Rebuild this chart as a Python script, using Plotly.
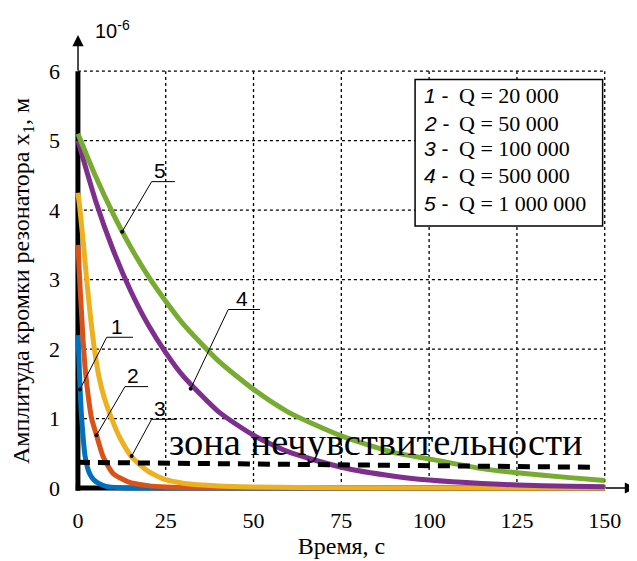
import plotly.graph_objects as go

# ---------------- data ----------------
t1 = [0, 0.3, 0.6, 1.0, 1.5, 2.0, 2.7, 3.4, 4.5, 5.8, 8, 12, 20, 40, 150]
a1 = [2.2, 1.85, 1.45, 1.05, 0.72, 0.47, 0.3, 0.2, 0.12, 0.07, 0.025, 0.006, 0, 0, 0]

t2 = [0, 0.3, 0.6, 1.0, 1.5, 2.2, 3.0, 3.9, 5.3, 7.2, 10, 14.3, 20, 25, 35, 150]
a2 = [3.5, 3.2, 2.9, 2.55, 2.1, 1.65, 1.3, 1.0, 0.76, 0.45, 0.21, 0.09, 0.035, 0.015, 0.003, 0]

t3 = [0, 0.5, 1, 1.5, 2.5, 3.5, 4.7, 6, 7.5, 9.6, 12, 15.3, 20, 25, 30, 40, 50, 75, 150]
a3 = [4.25, 4.05, 3.8, 3.55, 3.0, 2.5, 2.0, 1.6, 1.3, 1.0, 0.72, 0.45, 0.24, 0.12, 0.07, 0.03, 0.015, 0.003, 0]

t4 = [0, 5, 10, 15, 20, 25, 30, 40, 50, 60, 75, 90, 100, 115, 125, 140, 150]
a4 = [5.0, 4.14, 3.43, 2.84, 2.35, 1.95, 1.61, 1.10, 0.76, 0.52, 0.30, 0.17, 0.115, 0.065, 0.045, 0.025, 0.017]

t5 = [0, 5, 10, 15, 20, 25, 30, 40, 50, 60, 75, 90, 100, 115, 125, 140, 150]
a5 = [5.1, 4.49, 3.95, 3.47, 3.05, 2.69, 2.36, 1.83, 1.42, 1.09, 0.75, 0.51, 0.42, 0.28, 0.22, 0.15, 0.11]

# insensitivity zone (dashed line)
zone_t = [0, 146]
zone_a = [0.37, 0.30]

curve_numbers = ["1", "2", "3", "4", "5"]
q_labels = ["Q = 20 000", "Q = 50 000", "Q = 100 000", "Q = 500 000", "Q = 1 000 000"]
x_ticks = [0, 25, 50, 75, 100, 125, 150]
y_ticks = [0, 1, 2, 3, 4, 5, 6]

colors = ["#0072BD", "#D95319", "#EDB120", "#7E2F8E", "#77AC30"]

SERIF = "Liberation Serif, Times New Roman, serif"
SANS = "Liberation Sans, Arial, sans-serif"

# layout geometry (page body has an 8px offset)
OFF = 8
ML, MR, MT, MB = 73 - OFF, 27 + OFF, 67 - OFF, 66 + OFF
W, H = 637, 561
PW, PH = W - ML - MR, H - MT - MB


def px(xp):
    return (xp - OFF - ML) / PW


def py(yp):
    return (H - MB - (yp - OFF)) / PH


fig = go.Figure()

shapes = []
for xv in x_ticks[1:]:
    shapes.append(dict(type="line", xref="x", yref="y", x0=xv, x1=xv, y0=0, y1=6,
                       line=dict(color="black", width=1.3, dash="dot"), layer="between"))
for yv in y_ticks[1:]:
    shapes.append(dict(type="line", xref="x", yref="y", x0=0, x1=150, y0=yv, y1=yv,
                       line=dict(color="black", width=1.3, dash="dot"), layer="between"))
shapes.append(dict(type="line", xref="x", yref="y", x0=0, x1=0, y0=-0.04, y1=6,
                   line=dict(color="black", width=5), layer="between"))
shapes.append(dict(type="line", xref="x", yref="y", x0=-0.6, x1=150, y0=0, y1=0,
                   line=dict(color="black", width=5), layer="between"))

for t, a, c in zip([t1, t2, t3, t4, t5], [a1, a2, a3, a4, a5], colors):
    fig.add_trace(go.Scatter(x=t, y=a, mode="lines", line=dict(color=c, width=5, shape="spline", smoothing=0.6),
                             showlegend=False, hoverinfo="skip"))

fig.add_trace(go.Scatter(x=zone_t, y=zone_a, mode="lines",
                         line=dict(color="black", width=5, dash="12px,8px"),
                         showlegend=False, hoverinfo="skip"))

annotations = []
# axis arrows (paper coordinates)
annotations.append(dict(x=px(78), y=py(35), xref="paper", yref="paper", ax=0, ay=37, showarrow=True,
                        arrowhead=2, arrowsize=1.6, arrowwidth=1.4, arrowcolor="black", text=""))
annotations.append(dict(x=px(636), y=py(488), xref="paper", yref="paper", ax=-32, ay=0, showarrow=True,
                        arrowhead=2, arrowsize=1.6, arrowwidth=1.4, arrowcolor="black", text=""))
# exponent
annotations.append(dict(x=px(93), y=py(29), xref="paper", yref="paper", text="10<sup>-6</sup>", showarrow=False,
                        xanchor="left", yanchor="middle", font=dict(family=SANS, size=20, color="black")))
# zone text
annotations.append(dict(x=25.5, y=0.66, xref="x", yref="y", text="зона нечувствительности", showarrow=False,
                        xanchor="left", yanchor="middle", font=dict(family=SERIF, size=38.5, color="black")))

# curve callouts: (point t, point a, line start t, line end t, line a, text t, text a)
callouts = [
    (0.57, 1.42, 8.2, 15.7, 2.17, 11.0, 2.33),
    (5.3, 0.76, 13.4, 20.0, 1.46, 15.7, 1.62),
    (15.3, 0.46, 21.0, 28.1, 0.99, 23.5, 1.15),
    (32.1, 1.43, 42.8, 51.8, 2.57, 46.6, 2.73),
    (12.6, 3.69, 21.0, 27.6, 4.41, 23.3, 4.57),
]
for num, (pt, pa, l0, l1, la, tt, ta) in zip(curve_numbers, callouts):
    shapes.append(dict(type="line", xref="x", yref="y", x0=pt, y0=pa, x1=l0, y1=la,
                       line=dict(color="black", width=1)))
    shapes.append(dict(type="line", xref="x", yref="y", x0=l0, y0=la, x1=l1, y1=la,
                       line=dict(color="black", width=1)))
    shapes.append(dict(type="circle", xref="x", yref="y", xsizemode="pixel", ysizemode="pixel",
                       xanchor=pt, yanchor=pa, x0=-2, x1=2, y0=-2, y1=2,
                       fillcolor="black", line=dict(color="black", width=0)))
    annotations.append(dict(x=tt, y=ta, xref="x", yref="y", text=num, showarrow=False,
                            xanchor="center", yanchor="middle", font=dict(family=SANS, size=21, color="black")))

# legend box
shapes.append(dict(type="rect", xref="x", yref="y", x0=96.0, x1=149.4, y0=3.77, y1=5.88,
                   fillcolor="white", line=dict(color="black", width=1.5), layer="above"))
leg_y = [5.65, 5.25, 4.88, 4.5, 4.1]
for num, ql, ly in zip(curve_numbers, q_labels, leg_y):
    annotations.append(dict(x=98.0, y=ly, xref="x", yref="y", showarrow=False, xanchor="left", yanchor="middle",
                            text=f"<i>{num}</i> -", font=dict(family=SANS, size=21, color="black")))
    annotations.append(dict(x=108.0, y=ly, xref="x", yref="y", showarrow=False, xanchor="left", yanchor="middle",
                            text=ql, font=dict(family=SERIF, size=22, color="black")))

fig.update_layout(
    width=W, height=H,
    margin=dict(l=ML, r=MR, t=MT, b=MB),
    paper_bgcolor="white", plot_bgcolor="white",
    shapes=shapes, annotations=annotations,
    xaxis=dict(range=[-1.4, 151.5], tickvals=x_ticks, ticktext=[str(v) for v in x_ticks],
               showgrid=False, zeroline=False, showline=False, ticks="", ticklabelstandoff=10,
               automargin=False,
               tickfont=dict(family=SERIF, size=22, color="black"),
               title=dict(text="Время, с", font=dict(family=SERIF, size=24, color="black"), standoff=4)),
    yaxis=dict(range=[-0.1, 6.06], tickvals=y_ticks, ticktext=[str(v) for v in y_ticks],
               showgrid=False, zeroline=False, showline=False, ticks="", ticklabelstandoff=12,
               automargin=False,
               tickfont=dict(family=SERIF, size=22, color="black"),
               title=dict(text="Амплитуда кромки резонатора x<sub>1</sub>, м",
                          font=dict(family=SERIF, size=24, color="black"), standoff=14)),
)

fig.write_html("out.html")
